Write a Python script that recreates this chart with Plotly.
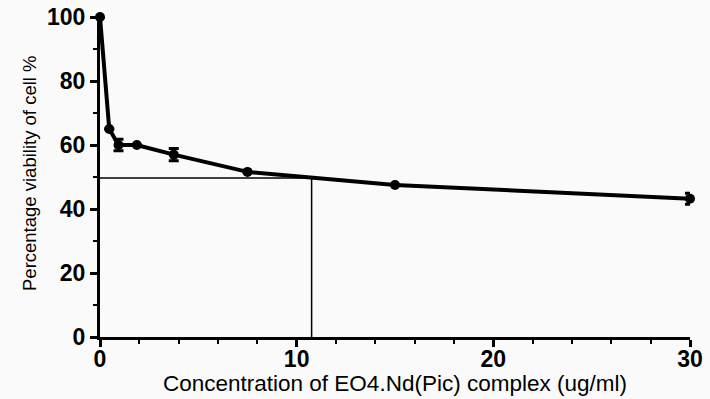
import plotly.graph_objects as go

# Cell viability vs. concentration (two-fold dilution series)
concentration = [0, 0.47, 0.94, 1.875, 3.75, 7.5, 15, 30]
viability = [100, 65, 60, 60, 57, 51.6, 47.5, 43.2]
viability_err = [0, 0, 1.8, 0, 1.9, 0, 0, 1.7]

# IC50 guide lines
ic50 = 10.76
half_viability = 49.7

x_ticks = [0, 10, 20, 30]
y_ticks = [0, 20, 40, 60, 80, 100]

x_title = "Concentration of EO4.Nd(Pic) complex (ug/ml)"
y_title = "Percentage viability of cell %"

fig = go.Figure()

fig.add_trace(go.Scatter(
    x=[0, ic50, ic50], y=[half_viability, half_viability, 0],
    mode="lines", line=dict(color="black", width=1.5),
    showlegend=False, hoverinfo="skip", cliponaxis=False,
))

fig.add_trace(go.Scatter(
    x=concentration, y=viability,
    mode="lines+markers",
    line=dict(color="black", width=4),
    marker=dict(color="black", size=10),
    error_y=dict(type="data", array=viability_err, visible=True,
                 color="black", thickness=3, width=5),
    showlegend=False, cliponaxis=False,
))

font_family = "Liberation Sans, Arial, sans-serif"
tick_font = dict(family=font_family, size=23, color="black")

fig.update_layout(
    width=710, height=399,
    margin=dict(l=100, r=20, t=17, b=62),
    paper_bgcolor="#fafafa",
    plot_bgcolor="#fafafa",
    xaxis=dict(
        range=[0, 30], tickvals=x_ticks, ticktext=[f"<b>{v}</b>" for v in x_ticks],
        automargin=False,
        showgrid=False, zeroline=False,
        showline=True, linecolor="black", linewidth=3,
        ticks="outside", ticklen=7, tickwidth=3, tickcolor="black",
        ticklabelstandoff=-8,
        tickfont=tick_font,
        minor=dict(dtick=2, ticks="outside", ticklen=4, tickwidth=2, tickcolor="black"),
    ),
    yaxis=dict(
        range=[0, 100], tickvals=y_ticks, ticktext=[f"<b>{v}</b>" for v in y_ticks],
        automargin=False,
        showgrid=False, zeroline=False,
        showline=True, linecolor="black", linewidth=3,
        ticks="outside", ticklen=7, tickwidth=3, tickcolor="black",
        tickfont=tick_font,
        minor=dict(dtick=10, ticks="outside", ticklen=4, tickwidth=2, tickcolor="black"),
    ),
    annotations=[
        dict(text=x_title, xref="paper", yref="paper", x=0.5, y=0,
             xanchor="center", yanchor="middle", yshift=-46, showarrow=False,
             font=dict(family=font_family, size=22.5, color="black")),
        dict(text=y_title, xref="paper", yref="paper", x=0, y=0.5,
             xanchor="center", yanchor="middle", xshift=-71, yshift=3, textangle=-90,
             showarrow=False,
             font=dict(family=font_family, size=18.5, color="black")),
    ],
)

fig.write_html("out.html")
